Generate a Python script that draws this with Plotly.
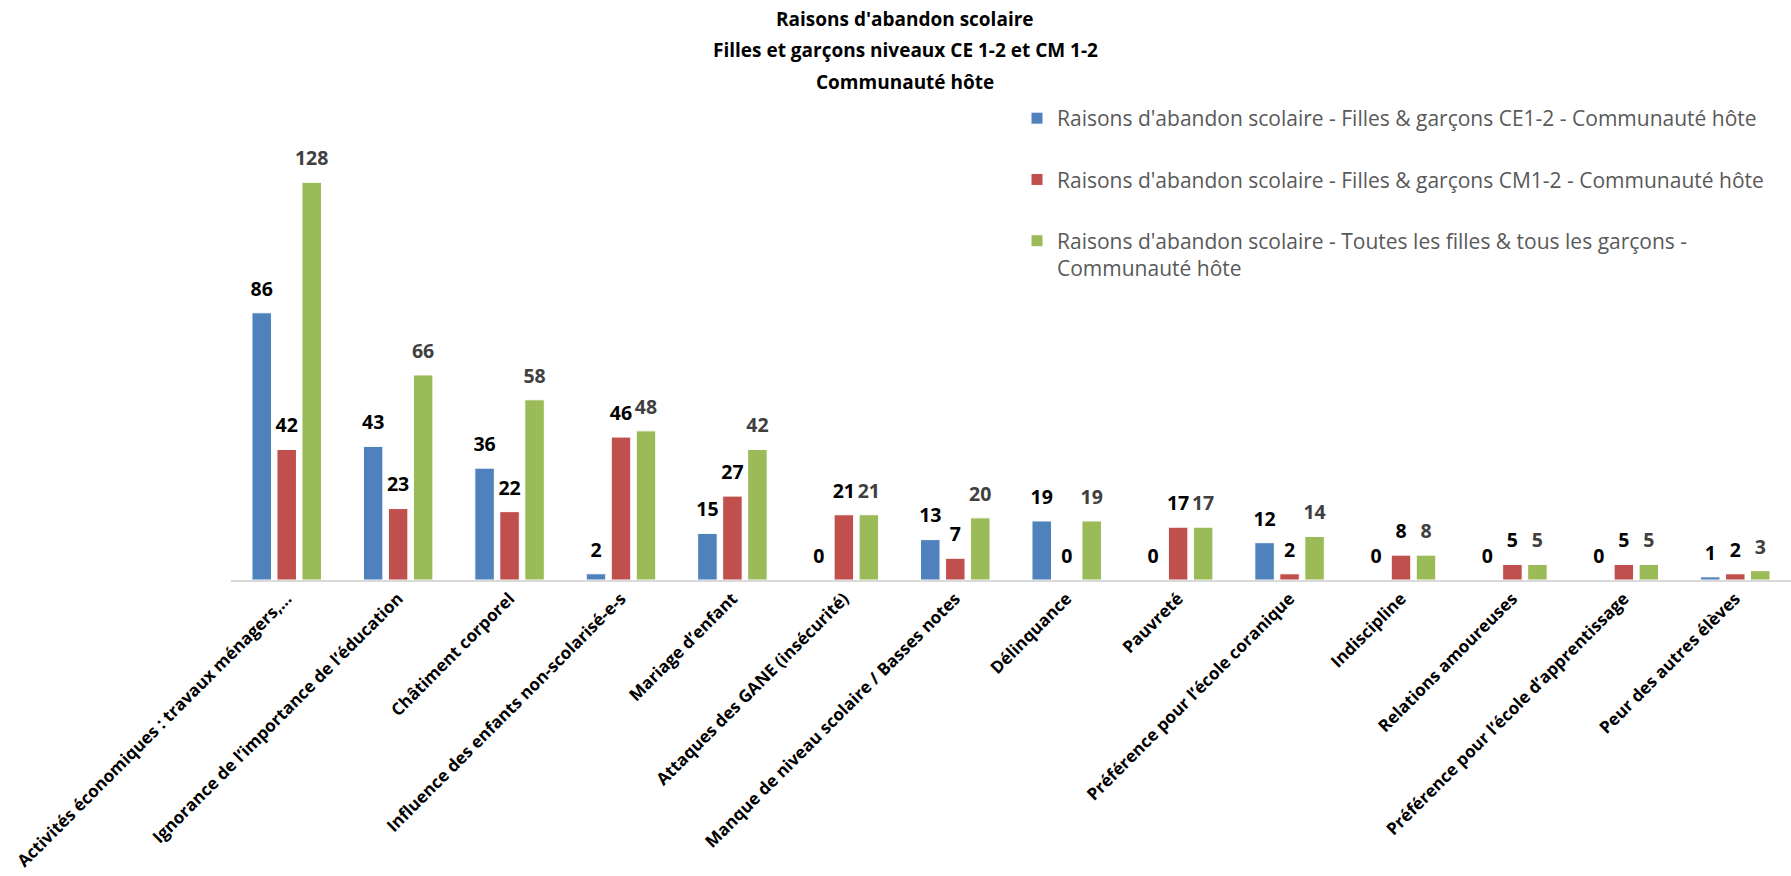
import plotly.graph_objects as go

categories = [
    "Activités économiques : travaux ménagers,...",
    "Ignorance de l’importance de l’éducation",
    "Châtiment corporel",
    "Influence des enfants non-scolarisé-e-s",
    "Mariage d’enfant",
    "Attaques des GANE (insécurité)",
    "Manque de niveau scolaire / Basses notes",
    "Délinquance",
    "Pauvreté",
    "Préférence pour l’école coranique",
    "Indiscipline",
    "Relations amoureuses",
    "Préférence pour l’école d’apprentissage",
    "Peur des autres élèves",
]
ce_values = [86, 43, 36, 2, 15, 0, 13, 19, 0, 12, 0, 0, 0, 1]
cm_values = [42, 23, 22, 46, 27, 21, 7, 0, 17, 2, 8, 5, 5, 2]
all_values = [128, 66, 58, 48, 42, 21, 20, 19, 17, 14, 8, 5, 5, 3]

series_names = [
    "Raisons d'abandon scolaire - Filles & garçons CE1-2 - Communauté hôte",
    "Raisons d'abandon scolaire - Filles & garçons CM1-2 - Communauté hôte",
    "Raisons d'abandon scolaire - Toutes les filles & tous les garçons -<br>Communauté hôte",
]
title_lines = [
    "Raisons d'abandon scolaire",
    "Filles et garçons niveaux CE 1-2 et CM 1-2",
    "Communauté hôte",
]

colors = ["#4F81BD", "#C0504D", "#9BBB59"]
label_colors = ["#000000", "#000000", "#404040"]

W, H = 1791, 876
L, R, T, B = 231, 0, 145, 296
plot_h = H - T - B
BARGAP = 0.327

fig = go.Figure()
for i, vals in enumerate([ce_values, cm_values, all_values]):
    fig.add_trace(go.Bar(
        x=categories, y=vals, name=series_names[i],
        legendgroup=f"g{i}", offsetgroup=f"g{i}",
        marker=dict(color=colors[i], line=dict(color="white", width=1)),
        hoverinfo="x+y",
    ))
for i, vals in enumerate([ce_values, cm_values, all_values]):
    fig.add_trace(go.Scatter(
        x=categories, y=vals, mode="markers+text",
        text=[str(v) for v in vals], textposition="top center",
        offsetgroup=f"g{i}", showlegend=False, cliponaxis=False,
        marker=dict(size=18, opacity=0, color=colors[i]),
        textfont=dict(family="Open Sans", size=19.5, color=label_colors[i], weight="bold"),
        hoverinfo="skip",
    ))

def py(p):
    return (H - B - p) / plot_h

annotations = []
for line, ypix in zip(title_lines, [19, 50, 82]):
    annotations.append(dict(
        text=line, xref="paper", yref="paper",
        x=(905 - L) / (W - L - R), y=py(ypix),
        xanchor="center", yanchor="middle", showarrow=False,
        font=dict(family="Open Sans", size=19, color="#000000", weight="bold"),
    ))

fig.update_layout(
    width=W, height=H,
    margin=dict(l=L, r=R, t=T, b=B, autoexpand=False),
    paper_bgcolor="white", plot_bgcolor="white",
    barmode="group", bargap=BARGAP, bargroupgap=0.22,
    scattermode="group", scattergap=BARGAP,
    showlegend=True,
    legend=dict(
        x=(1017 - L) / (W - L - R), y=py(98), xanchor="left", yanchor="top",
        font=dict(family="Open Sans", size=21, color="#595959"),
        tracegroupgap=31, valign="top", bgcolor="rgba(0,0,0,0)",
    ),
    annotations=annotations,
    xaxis=dict(
        showline=True, linecolor="#d9d9d9", linewidth=2,
        showgrid=False, zeroline=False, ticks="",
        tickangle=-45,
        tickfont=dict(family="Open Sans", size=17, color="#000000", weight="bold"),
    ),
    yaxis=dict(
        range=[0, 140], showticklabels=False, showgrid=False,
        zeroline=False, showline=False, ticks="",
    ),
)

fig.write_html("out.html")
